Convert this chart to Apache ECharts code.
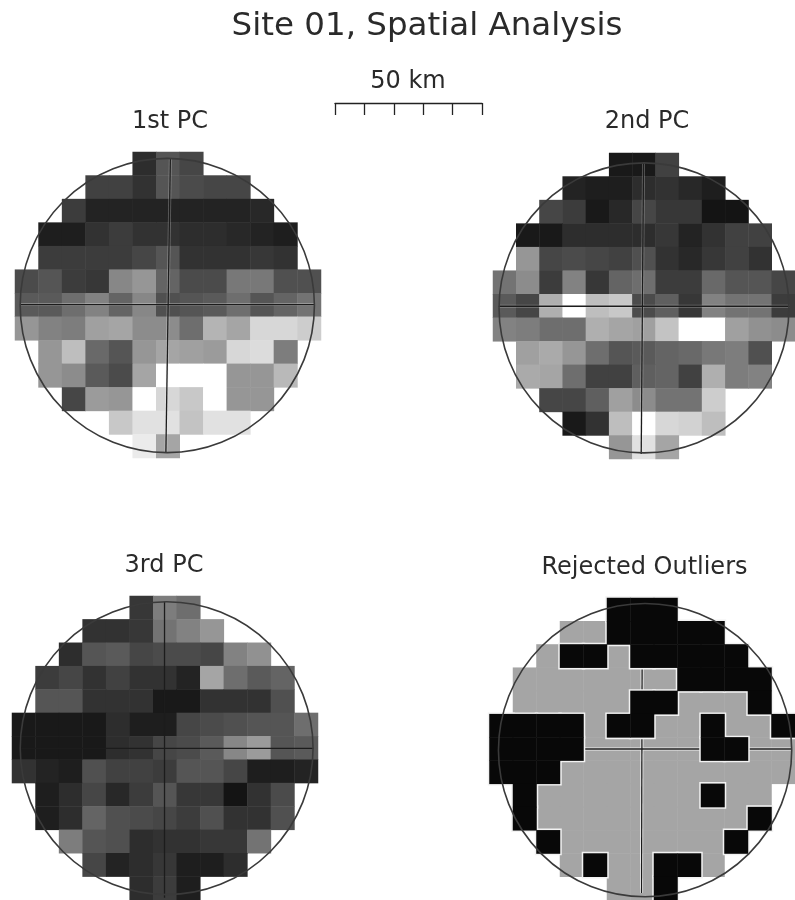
<!DOCTYPE html>
<html>
<head>
<meta charset="utf-8">
<script src="https://cdn.jsdelivr.net/npm/echarts@6/dist/echarts.min.js"></script>
<style>html,body{margin:0;padding:0;background:#fff}#c{width:795px;height:900px}</style>
</head>
<body>
<div id="c"></div>
<script>
// Grey level (0 black .. 255 white) of each cell; null = no cell.
const n = null;
const pc1 = [
 [n,n,n,n,n,45,85,70,n,n,n,n,n],
 [n,n,n,65,65,50,85,75,70,70,n,n,n],
 [n,n,60,35,35,35,35,35,35,35,40,n,n],
 [n,30,30,50,60,50,50,45,45,40,35,30,n],
 [n,60,60,60,60,70,85,50,50,50,55,50,n],
 [75,85,60,55,135,150,100,75,75,120,120,80,80],
 [90,90,110,130,100,135,80,85,90,110,85,100,115],
 [150,130,125,160,165,140,140,110,180,165,215,215,205],
 [n,150,190,105,85,150,165,160,155,215,220,125,n],
 [n,150,140,90,75,165,255,255,255,150,150,185,n],
 [n,n,70,155,150,255,215,200,255,150,150,n,n],
 [n,n,n,n,200,225,225,195,225,225,n,n,n],
 [n,n,n,n,n,235,165,n,n,n,n,n,n]
];
const pc2 = [
 [n,n,n,n,n,25,25,65,n,n,n,n,n],
 [n,n,n,35,30,30,45,50,40,30,n,n,n],
 [n,n,70,60,25,40,70,55,55,20,20,n,n],
 [n,25,25,45,45,45,45,55,35,50,65,65,n],
 [n,150,70,75,70,65,80,50,40,55,65,50,n],
 [115,140,60,130,55,100,110,60,60,105,85,85,70],
 [90,70,175,255,190,200,75,95,55,130,115,115,60],
 [130,125,110,110,175,165,160,195,255,255,160,145,140],
 [n,160,170,150,110,85,90,100,105,120,125,80,n],
 [n,170,165,110,65,65,95,100,65,175,125,130,n],
 [n,n,70,70,95,160,140,115,115,205,n,n,n],
 [n,n,n,25,50,190,255,215,210,190,n,n,n],
 [n,n,n,n,n,150,225,165,n,n,n,n,n]
];
const pc3 = [
 [n,n,n,n,n,55,125,110,n,n,n,n,n],
 [n,n,n,50,50,55,115,130,150,n,n,n,n],
 [n,n,45,85,90,70,75,75,70,130,145,n,n],
 [n,60,70,50,65,50,50,35,165,110,90,100,n],
 [n,85,85,50,50,50,25,25,50,50,50,80,n],
 [25,25,25,25,45,30,30,70,75,80,85,85,110],
 [25,25,25,25,45,50,70,75,90,135,155,85,90],
 [50,35,30,80,65,65,60,85,85,70,30,30,35],
 [n,30,45,70,40,60,85,55,55,20,50,75,n],
 [n,30,45,100,80,75,70,60,80,50,50,80,n],
 [n,n,125,85,80,45,50,50,55,55,115,n,n],
 [n,n,n,70,35,45,55,30,30,45,n,n,n],
 [n,n,n,n,n,45,60,30,n,n,n,n,n]
];
const g = 165, k = 8;
const outliersKept = [
 [n,n,n,n,n,n,n,n,n,n,n,n,n],
 [n,n,n,g,g,n,n,n,n,n,n,n,n],
 [n,n,g,n,n,g,n,n,n,n,n,n,n],
 [n,g,g,g,g,g,g,g,n,n,n,n,n],
 [n,g,g,g,g,g,n,n,g,g,g,n,n],
 [n,n,n,n,g,n,n,g,g,n,g,g,n],
 [n,n,n,n,g,g,g,g,g,n,n,g,g],
 [n,n,n,g,g,g,g,g,g,g,g,g,g],
 [n,n,g,g,g,g,g,g,g,n,g,g,n],
 [n,n,g,g,g,g,g,g,g,g,g,n,n],
 [n,n,n,g,g,g,g,g,g,g,n,n,n],
 [n,n,n,g,n,g,g,n,n,g,n,n,n],
 [n,n,n,n,n,g,g,n,n,n,n,n,n]
];
const outliersRejected = [
 [n,n,n,n,n,k,k,k,n,n,n,n,n],
 [n,n,n,n,n,k,k,k,k,k,n,n,n],
 [n,n,n,k,k,n,k,k,k,k,k,n,n],
 [n,n,n,n,n,n,n,n,k,k,k,k,n],
 [n,n,n,n,n,n,k,k,n,n,n,k,n],
 [k,k,k,k,n,k,k,n,n,k,n,n,k],
 [k,k,k,k,n,n,n,n,n,k,k,n,n],
 [k,k,k,n,n,n,n,n,n,n,n,n,n],
 [n,k,n,n,n,n,n,n,n,k,n,n,n],
 [n,k,n,n,n,n,n,n,n,n,n,k,n],
 [n,n,k,n,n,n,n,n,n,n,k,n,n],
 [n,n,n,n,k,n,n,k,k,n,n,n,n],
 [n,n,n,n,n,n,n,k,n,n,n,n,n]
];
const cellIds = ['0','1','2','3','4','5','6','7','8','9','10','11','12'];
const scaleKm = 50, scaleStepKm = 10;
const titleText = 'Site 01, Spatial Analysis';
const scaleText = '50 km';

// circle [centre x, centre y, radius] and crosshair lines, in cell units
const panels = [
 {name:'1st PC', left:15, top:152, labelX:170, labelY:122, haloAlpha:0.3, circle:[6.47,6.52,6.25],
  v:[[6.6,0.28],[6.41,12.77]], h:[[0.21,6.48],[12.72,6.48]]},
 {name:'2nd PC', left:493, top:153, labelX:647, labelY:122, haloAlpha:0.3, circle:[6.5,6.58,6.24],
  v:[[6.48,0.45],[6.38,12.79]], h:[[0.24,6.51],[12.77,6.51]]},
 {name:'3rd PC', left:12, top:596, labelX:164, labelY:566, haloAlpha:0, circle:[6.57,6.51,6.22],
  v:[[6.48,0.25],[6.48,12.9]], h:[[0.35,6.52],[12.8,6.52]]},
 {name:'Rejected Outliers', left:489.5, top:598, labelX:644.5, labelY:568, haloAlpha:1, circle:[6.62,6.55,6.24],
  v:[[6.5,0.4],[6.47,12.7]], h:[[0.39,6.5],[12.85,6.5]]}
];
const layers = [[pc1],[pc2],[pc3],[outliersKept,outliersRejected]];
const gridSize = 306;

function cells(rows){
  const out=[];
  rows.forEach((r,y)=>r.forEach((v,x)=>{ if(v!==null) out.push([x,y,v]); }));
  return out;
}

const grid=[],xAxis=[],yAxis=[],series=[],title=[];
const heatIdx=[];
const label=(text,x,y,size)=>({text,left:x,top:y,padding:0,textAlign:'center',textVerticalAlign:'middle',
  textStyle:{fontFamily:'DejaVu Sans',fontSize:size,fontWeight:'normal',color:'#2a2a2a'}});
title.push(label(titleText,427,27,32.5));
title.push(label(scaleText,408,82,24));

panels.forEach((p,i)=>{
  grid.push({left:p.left,top:p.top,width:gridSize,height:gridSize});
  title.push(label(p.name,p.labelX,p.labelY,24));
  // category pair for the cells, value pair for the overlay
  xAxis.push({type:'category',gridIndex:i,data:cellIds,show:false});
  yAxis.push({type:'category',gridIndex:i,data:cellIds,inverse:true,show:false});
  const ca=xAxis.length-1;
  xAxis.push({type:'value',gridIndex:i,min:0,max:13,show:false});
  yAxis.push({type:'value',gridIndex:i,min:0,max:13,inverse:true,show:false});
  const va=xAxis.length-1;
  const heat=(rows,z,style)=>{
    heatIdx.push(series.length);
    series.push({type:'heatmap',xAxisIndex:ca,yAxisIndex:ca,data:cells(rows),z:z,silent:true,
      itemStyle:style||{},emphasis:{disabled:true},progressive:0,animation:false});
  };
  const cross=(pts,z,color,w)=>series.push({type:'line',xAxisIndex:va,yAxisIndex:va,data:pts,z:z,
    symbol:'none',silent:true,animation:false,clip:false,lineStyle:{color:color,width:w}});
  const isOutliers=layers[i].length>1;
  heat(layers[i][0],2);
  if(p.haloAlpha>0){
    const halo='rgba(240,240,240,'+p.haloAlpha+')';
    cross(p.v,3,halo,3);
    cross(p.h,3,halo,3);
  }
  cross(p.v,4,'#1c1c1c',1.3);
  cross(p.h,4,'#1c1c1c',1.3);
  if(isOutliers){
    heat(layers[i][1],5,{borderColor:'#f2f2f2',borderWidth:3});
    heat(layers[i][1],6);
  }
  series.push({type:'custom',xAxisIndex:va,yAxisIndex:va,z:7,silent:true,animation:false,clip:false,
    data:[p.circle],
    renderItem:(params,api)=>{
      const c=api.coord([api.value(0),api.value(1)]);
      const r=api.size([api.value(2),0])[0];
      return {type:'circle',shape:{cx:c[0],cy:c[1],r:r},
        style:{fill:'none',stroke:'#3a3a3a',lineWidth:1.6}};
    }});
});

// scale bar as a 0-50 km axis
grid.push({left:335,top:102,width:147,height:1});
xAxis.push({type:'value',gridIndex:4,position:'top',min:0,max:scaleKm,interval:scaleStepKm,
  axisLine:{show:true,lineStyle:{color:'#222',width:1.3}},
  axisTick:{show:true,inside:true,length:12,lineStyle:{color:'#222',width:1.3}},
  axisLabel:{show:false},splitLine:{show:false}});
yAxis.push({type:'value',gridIndex:4,show:false});

const chart=echarts.init(document.getElementById('c'),null,{renderer:'canvas'});
chart.setOption({
  backgroundColor:'#fff',animation:false,
  title,grid,xAxis,yAxis,series,
  visualMap:{show:false,min:0,max:255,seriesIndex:heatIdx,dimension:2,
    inRange:{color:['#000000','#ffffff']}}
});
</script>
</body>
</html>
